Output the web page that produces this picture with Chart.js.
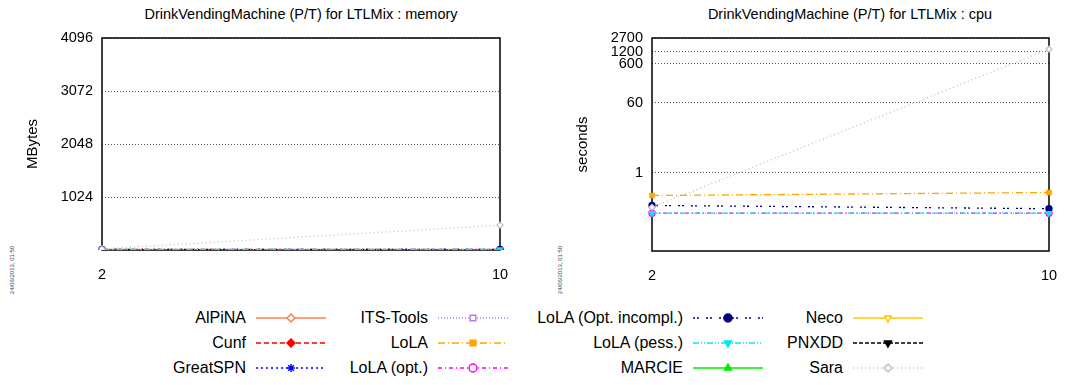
<!DOCTYPE html>
<html lang="en">
<head>
  <meta charset="UTF-8">
  <title>DrinkVendingMachine (P/T) for LTLMix</title>
  <script src="https://cdn.jsdelivr.net/npm/chart.js@4/dist/chart.umd.min.js"></script>
  <style>
    body {
      margin: 0;
      width: 1081px;
      height: 385px;
      background: #ffffff;
      font-family: 'Liberation Sans', Arial, sans-serif;
      overflow: hidden;
      position: relative;
    }
    .box { position: absolute; }
    .title {
      position: absolute;
      top: 6px;
      font-size: 14.5px;
      color: #000;
      white-space: nowrap;
      transform: translateX(-50%);
    }
    .stamp {
      position: absolute;
      font-size: 6px;
      color: #444;
      white-space: nowrap;
      transform: translate(-50%, -50%) rotate(-90deg);
    }
    .lbl {
      position: absolute;
      font-size: 16px;
      line-height: 20px;
      white-space: nowrap;
      text-align: right;
      color: #000;
    }
    .sample { position: absolute; }
  </style>
</head>
<body>

  <div class="title" style="left:301px">DrinkVendingMachine (P/T) for LTLMix : memory</div>
  <div class="title" style="left:850px">DrinkVendingMachine (P/T) for LTLMix : cpu</div>
  <div class="stamp" style="left:12px; top:270px">24/06/2013, 01:50</div>
  <div class="stamp" style="left:560px; top:270px">24/06/2013, 01:50</div>

  <div class="box" style="left:0; top:0; width:540px; height:280px"><canvas id="memChart"></canvas></div>
  <div class="box" style="left:545px; top:0; width:536px; height:281px"><canvas id="cpuChart"></canvas></div>
  <div id="legend"></div>

  <script>
    // données
    const sizes = ['2', '10'];
    const memTicks = [1024, 2048, 3072, 4096];
    const cpuTicks = [1, 60, 600, 1200, 2700];

    const toolNames = ['AlPiNA', 'Cunf', 'GreatSPN', 'ITS-Tools', 'LoLA', 'LoLA (opt.)',
      'LoLA (Opt. incompl.)', 'LoLA (pess.)', 'MARCIE', 'Neco', 'PNXDD', 'Sara'];

    // mémoire (MBytes) par outil, aux tailles 2 et 10
    const lolaMem = [10, 10];
    const lolaOptMem = [10, 10];
    const lolaIncMem = [10, 10];
    const lolaPessMem = [10, 10];
    const saraMem = [20, 480];

    // cpu (secondes)
    const lolaCpu = [0.26, 0.31];
    const lolaOptCpu = [0.092, 0.092];
    const lolaIncCpu = [0.145, 0.12];
    const lolaPessCpu = [0.092, 0.092];
    const saraCpu = [0.13, 1400];

    const memByTool = { 'LoLA': lolaMem, 'LoLA (opt.)': lolaOptMem, 'LoLA (Opt. incompl.)': lolaIncMem,
      'LoLA (pess.)': lolaPessMem, 'Sara': saraMem };
    const cpuByTool = { 'LoLA': lolaCpu, 'LoLA (opt.)': lolaOptCpu, 'LoLA (Opt. incompl.)': lolaIncCpu,
      'LoLA (pess.)': lolaPessCpu, 'Sara': saraCpu };

    // styles
    const toolColors = ['#ff7f50', '#ff0000', '#0000ff', '#b57cf2', '#ffa500', '#ff00ff',
      '#000080', '#00e8f0', '#00ee00', '#ffcc00', '#000000', '#c0c0c0'];
    const toolDash = [[], [5, 3], [2, 3], [1, 2], [7, 3, 1, 3], [4, 3, 1, 3],
      [2, 2, 2, 7], [6, 2, 1, 2, 1, 2], [], [], [4, 2], [1, 3]];
    const toolPoint = ['rectRot', 'rectRot', 'star', 'rect', 'rect', 'circle',
      'circle', 'triangle', 'triangle', 'triangle', 'triangle', 'rectRot'];
    const toolRot = [0, 0, 0, 0, 0, 0, 0, 180, 0, 180, 180, 0];
    const toolOpen = [true, false, false, true, false, true, false, false, false, true, false, true];

    function makeDatasets(byTool) {
      const sets = [];
      toolNames.forEach((name, i) => {
        if (!byTool[name]) return;
        sets.push({
          label: name,
          data: byTool[name],
          borderColor: toolColors[i],
          backgroundColor: toolColors[i],
          borderDash: toolDash[i],
          borderWidth: 1.3,
          pointStyle: toolPoint[i],
          pointRotation: toolRot[i],
          pointRadius: 3,
          pointBorderWidth: 1.3,
          pointBorderColor: toolColors[i],
          pointBackgroundColor: toolOpen[i] ? '#ffffff' : toolColors[i],
          tension: 0,
          order: -i
        });
      });
      return sets;
    }

    // cadre autour de la zone du graphique
    const framePlugin = {
      id: 'frame',
      beforeDatasetsDraw(chart) {
        const { ctx, chartArea: a } = chart;
        ctx.save();
        ctx.setLineDash([]);
        ctx.strokeStyle = '#000';
        ctx.lineWidth = 1.5;
        ctx.strokeRect(a.left, a.top, a.right - a.left, a.bottom - a.top);
        ctx.restore();
      }
    };

    function makeChart(id, byTool, yOpts, yTitle, yWidth, padRight) {
      const ctx = document.getElementById(id).getContext('2d');
      return new Chart(ctx, {
        type: 'line',
        data: { labels: sizes, datasets: makeDatasets(byTool) },
        plugins: [framePlugin],
        options: {
          responsive: true,
          maintainAspectRatio: false,
          animation: false,
          events: [],
          layout: { padding: { top: 38, right: padRight, left: 0, bottom: 0 } },
          plugins: { legend: { display: false }, tooltip: { enabled: false } },
          scales: {
            x: {
              type: 'category',
              offset: false,
              grid: { display: false },
              border: { display: false },
              ticks: { color: '#000', padding: 8, maxRotation: 0,
                font: { family: 'Liberation Sans', size: 14.5 } },
              afterFit: s => { s.height = 30; }
            },
            y: Object.assign({
              grid: { color: '#555', lineWidth: 1, drawTicks: false },
              border: { display: false, dash: [1, 2] },
              title: { display: true, text: yTitle, color: '#000',
                font: { family: 'Liberation Sans', size: 15 }, padding: { top: yWidth - 78, bottom: 0 } },
              ticks: { color: '#000', padding: 9, font: { family: 'Liberation Sans', size: 14.5 },
                callback: v => String(v) },
              afterFit: s => { s.width = yWidth; }
            }, yOpts)
          }
        }
      });
    }

    makeChart('memChart', memByTool, {
      type: 'linear', min: 0, max: 4096,
      afterBuildTicks: s => { s.ticks = memTicks.map(v => ({ value: v })); }
    }, 'MBytes', 102, 40);

    makeChart('cpuChart', cpuByTool, {
      type: 'logarithmic', min: 0.01, max: 2700,
      afterBuildTicks: s => { s.ticks = cpuTicks.map(v => ({ value: v })); }
    }, 'seconds', 107, 32);

    // légende commune (4 colonnes x 3 lignes)
    const legendRight = [246, 428, 683, 843];
    const legendRows = [318, 343, 368];
    const legend = document.getElementById('legend');
    toolNames.forEach((name, i) => {
      const col = Math.floor(i / 3), row = i % 3;
      const lbl = document.createElement('div');
      lbl.className = 'lbl';
      lbl.textContent = name;
      lbl.style.right = (1081 - legendRight[col]) + 'px';
      lbl.style.top = (legendRows[row] - 10) + 'px';
      legend.appendChild(lbl);

      const cv = document.createElement('canvas');
      cv.className = 'sample';
      cv.width = 72; cv.height = 14;
      cv.style.left = (legendRight[col] + 9) + 'px';
      cv.style.top = (legendRows[row] - 7) + 'px';
      legend.appendChild(cv);
      const c = cv.getContext('2d');
      c.strokeStyle = toolColors[i];
      c.lineWidth = 1.5;
      c.setLineDash(toolDash[i]);
      c.beginPath(); c.moveTo(1, 7); c.lineTo(71, 7); c.stroke();
      c.setLineDash([]);
      c.fillStyle = toolOpen[i] ? '#ffffff' : toolColors[i];
      c.strokeStyle = toolColors[i];
      if (Chart.helpers && Chart.helpers.drawPoint) {
        Chart.helpers.drawPoint(c, { pointStyle: toolPoint[i], rotation: toolRot[i], radius: 4, borderWidth: 1.5 }, 36, 7);
      } else {
        c.beginPath(); c.arc(36, 7, 4, 0, Math.PI * 2); c.fill(); c.stroke();
      }
    });
  </script>

</body>
</html>
